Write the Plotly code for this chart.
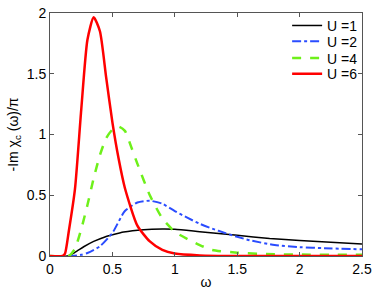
import plotly.graph_objects as go

# U = 1
w1 = [0, 0.14, 0.2, 0.27, 0.35, 0.44, 0.5, 0.59, 0.75, 0.9, 1.0, 1.2, 1.5, 1.76, 2.0, 2.5]
chi1 = [0, 0, 0.03, 0.076, 0.12, 0.157, 0.175, 0.198, 0.217, 0.222, 0.22, 0.2, 0.17, 0.144, 0.127, 0.098]

# U = 2
w2 = [0, 0.18, 0.25, 0.3, 0.4, 0.5, 0.6, 0.7, 0.8, 0.9, 1.0, 1.1, 1.2, 1.3, 1.4, 1.5, 1.6, 1.8, 2.0, 2.2, 2.5]
chi2 = [0, 0, 0.01, 0.025, 0.08, 0.19, 0.37, 0.44, 0.455, 0.43, 0.37, 0.315, 0.265, 0.225, 0.19, 0.158, 0.13, 0.09, 0.073, 0.064, 0.055]

# U = 4
w4 = [0, 0.15, 0.2, 0.25, 0.3, 0.35, 0.4, 0.45, 0.5, 0.55, 0.6, 0.65, 0.7, 0.8, 0.9, 1.0, 1.1, 1.2, 1.3, 1.5, 1.8, 2.5]
chi4 = [0, 0, 0.06, 0.22, 0.42, 0.64, 0.83, 0.97, 1.04, 1.065, 1.03, 0.9, 0.76, 0.5, 0.31, 0.2, 0.14, 0.09, 0.05, 0.027, 0.014, 0.01]

# U = 6
w6 = [0, 0.1, 0.12, 0.15, 0.2, 0.25, 0.3, 0.35, 0.4, 0.45, 0.5, 0.55, 0.6, 0.7, 0.8, 0.9, 1.0, 1.2, 1.5, 2.5]
chi6 = [0, 0, 0.02, 0.2, 0.55, 1.2, 1.78, 1.965, 1.85, 1.47, 1.1, 0.8, 0.56, 0.25, 0.12, 0.05, 0.02, 0.005, 0, 0]

series_names = ["U =1", "U =2", "U =4", "U =6"]

x_ticks = [0, 0.5, 1, 1.5, 2, 2.5]
x_ticklabels = ["0", "0.5", "1", "1.5", "2", "2.5"]
y_ticks = [0, 0.5, 1, 1.5, 2]
y_ticklabels = ["0", "0.5", "1", "1.5", "2"]

font = "Liberation Sans, Arial, sans-serif"

fig = go.Figure()
fig.add_trace(go.Scatter(x=w1, y=chi1, mode="lines", name=series_names[0], legend="legend",
                         line=dict(color="black", width=1.5, shape="spline", smoothing=0.6)))
fig.add_trace(go.Scatter(x=w2, y=chi2, mode="lines", name=series_names[1], legend="legend2",
                         line=dict(color="#2a4cff", width=2, dash="dashdot", shape="spline", smoothing=0.6)))
fig.add_trace(go.Scatter(x=w4, y=chi4, mode="lines", name=series_names[2], legend="legend3",
                         line=dict(color="#6ef01a", width=2.5, dash="dash", shape="spline", smoothing=0.6)))
fig.add_trace(go.Scatter(x=w6, y=chi6, mode="lines", name=series_names[3], legend="legend4",
                         line=dict(color="#ff0000", width=2.5, shape="spline", smoothing=0.6)))

axis_common = dict(showgrid=False, zeroline=False, showline=True, linecolor="#555555", linewidth=1,
                   mirror="ticks", ticks="inside", ticklen=4, tickcolor="#555555", automargin=False,
                   tickfont=dict(family=font, size=14, color="black"))

leg_common = dict(x=0.76, xanchor="left", yanchor="middle", bgcolor="rgba(0,0,0,0)",
                  font=dict(family=font, size=14), itemwidth=30)

fig.update_layout(
    width=374, height=290,
    margin=dict(l=50, r=12, t=10, b=34),
    paper_bgcolor="white", plot_bgcolor="white",
    font=dict(family=font, color="black"),
    xaxis=dict(range=[0, 2.5], tickvals=x_ticks, ticktext=x_ticklabels,
               title=dict(text="ω", font=dict(family=font, size=14), standoff=2), **axis_common),
    yaxis=dict(range=[0, 2], tickvals=y_ticks, ticktext=y_ticklabels,
               title=dict(text="-Im χ<sub>c</sub> (ω)/π", font=dict(family=font, size=14), standoff=4), **axis_common),
    legend=dict(y=0.947, **leg_common),
    legend2=dict(y=0.882, **leg_common),
    legend3=dict(y=0.813, **leg_common),
    legend4=dict(y=0.748, **leg_common),
    showlegend=True,
)

fig.write_html("out.html", config={"displayModeBar": False},
               post_script="document.body.style.margin='0';document.body.style.padding='0';document.body.style.overflow='hidden';")
